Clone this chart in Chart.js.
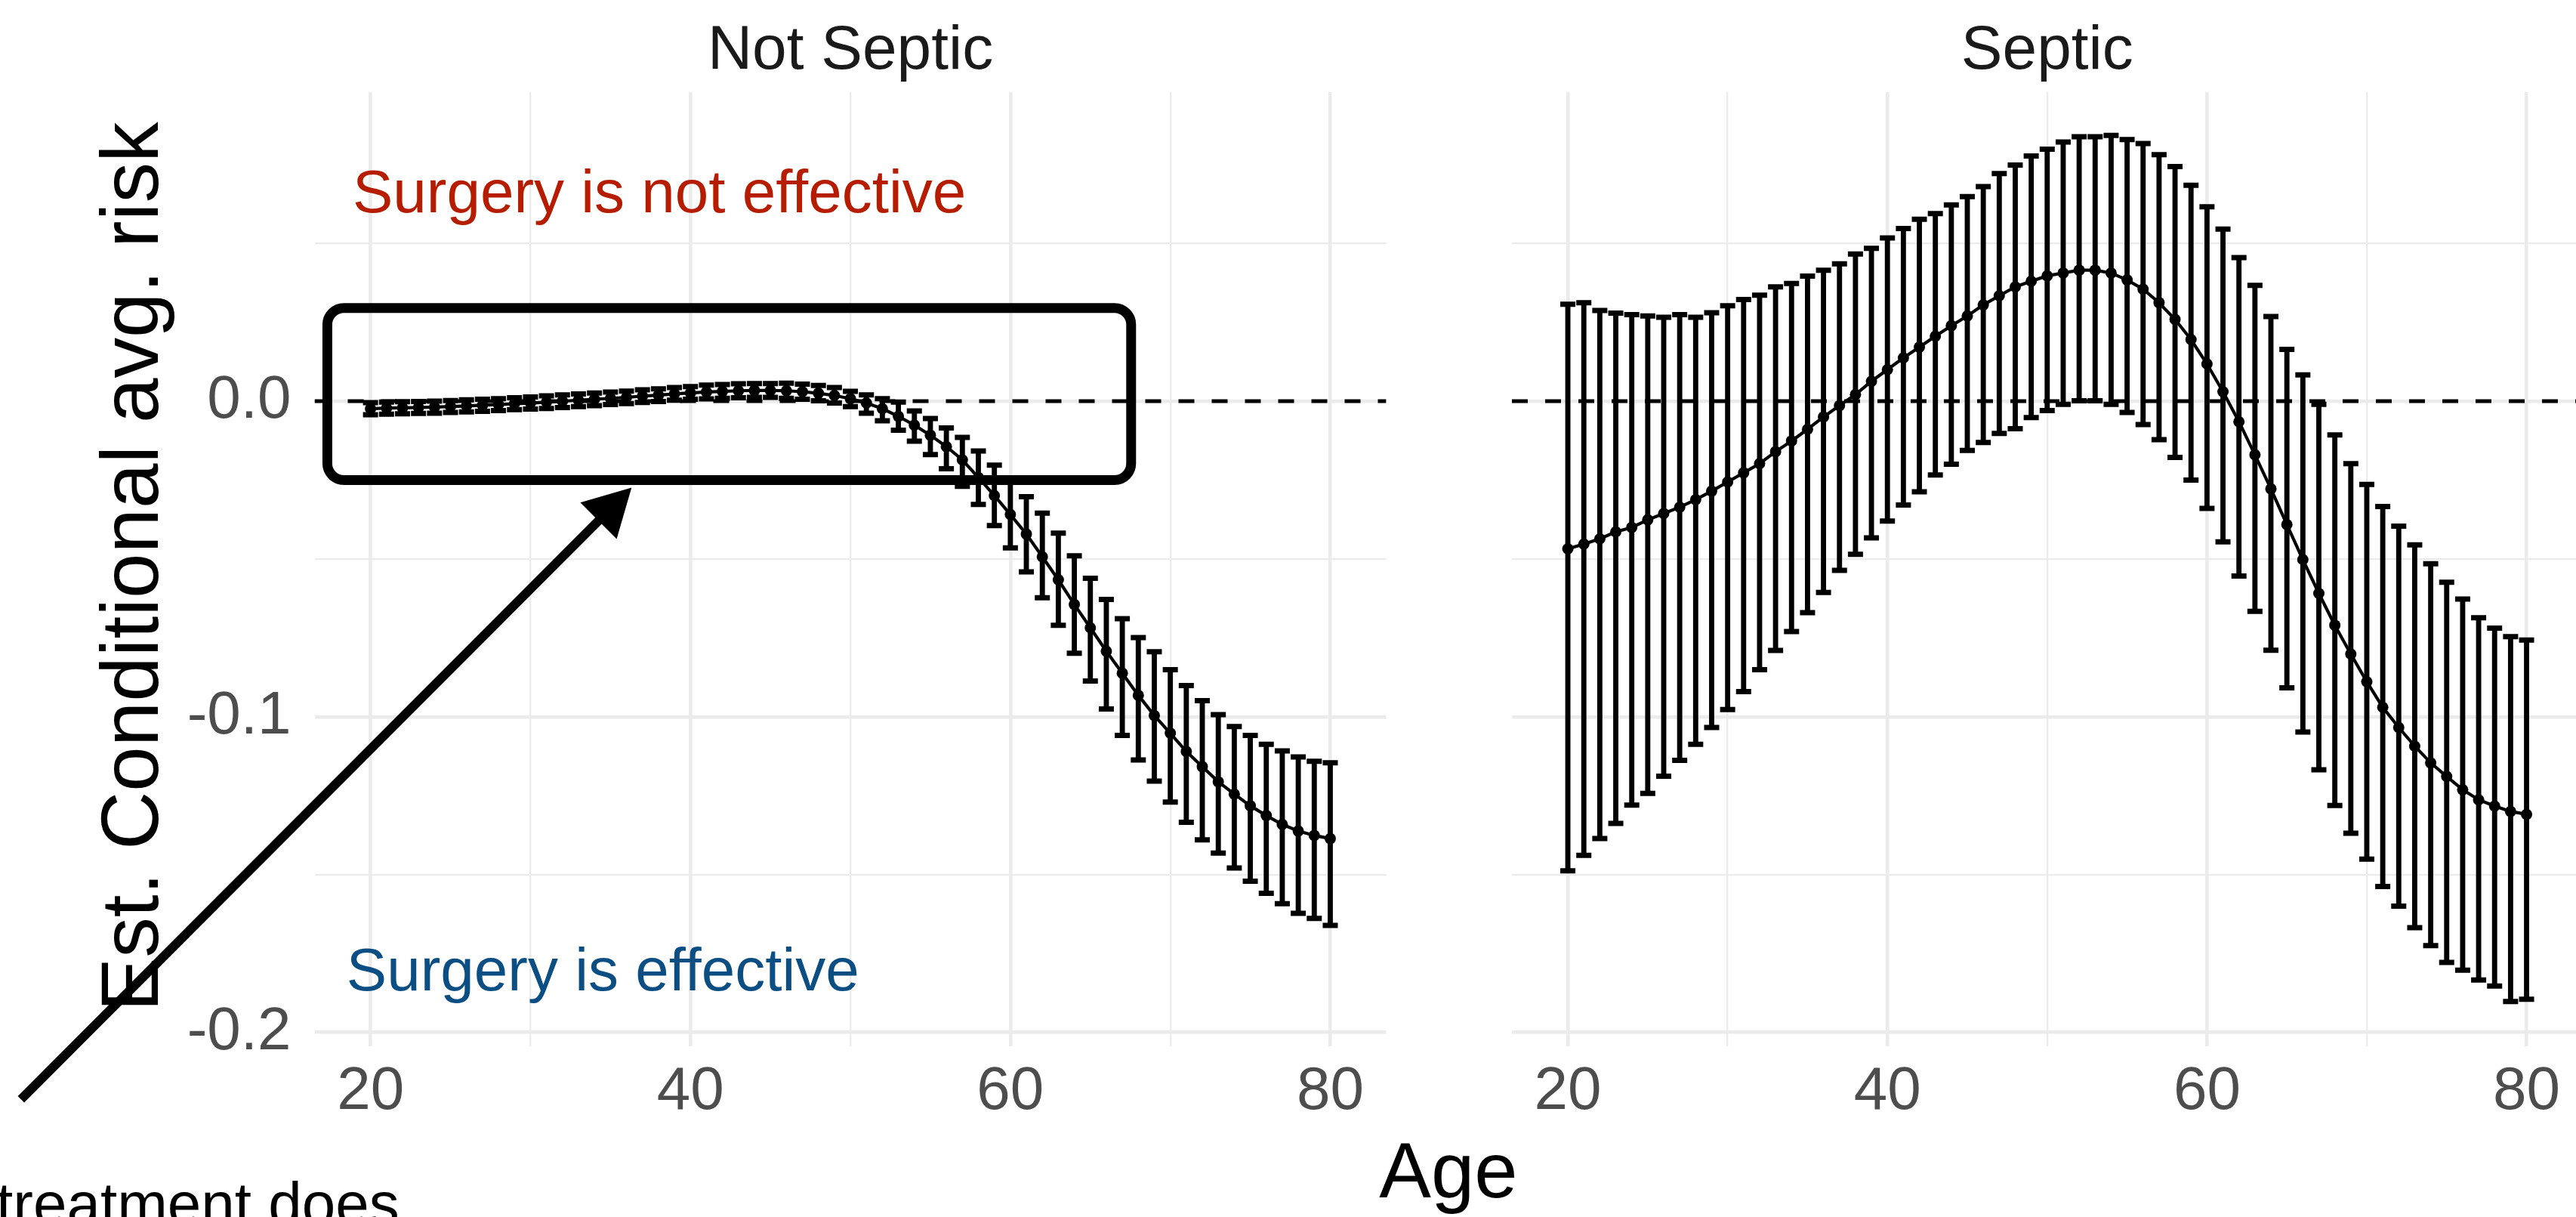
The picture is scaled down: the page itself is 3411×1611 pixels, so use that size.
<!DOCTYPE html>
<html>
<head>
<meta charset="utf-8">
<script src="https://cdn.jsdelivr.net/npm/chart.js@4/dist/chart.umd.min.js"></script>
<style>
  html, body { margin: 0; padding: 0; background: #ffffff; overflow: hidden; width: 3411px; height: 1611px; }
  canvas { position: absolute; left: 0; top: 0; }
</style>
</head>
<body>
<canvas id="septicChart" width="3500" height="1611"></canvas>
<canvas id="notSepticChart" width="3411" height="1611"></canvas>
<script>
// ---------------- data ----------------
const ages = [20, 21, 22, 23, 24, 25, 26, 27, 28, 29,
              30, 31, 32, 33, 34, 35, 36, 37, 38, 39,
              40, 41, 42, 43, 44, 45, 46, 47, 48, 49,
              50, 51, 52, 53, 54, 55, 56, 57, 58, 59,
              60, 61, 62, 63, 64, 65, 66, 67, 68, 69,
              70, 71, 72, 73, 74, 75, 76, 77, 78, 79, 80];

const panelTitles = ['Not Septic', 'Septic'];

// Not septic: estimated conditional average risk difference and interval bounds
const notSepticMean = [
  -0.0024, -0.0022, -0.0021, -0.0020, -0.0019, -0.0017, -0.0015, -0.0013, -0.0011, -0.0008,
  -0.0006, -0.0003,  0.0000,  0.0003,  0.0006,  0.0009,  0.0012,  0.0016,  0.0019,  0.0023,
   0.0026,  0.0029,  0.0031,  0.0033,  0.0034,  0.0034,  0.0033,  0.0030,  0.0025,  0.0018,
   0.0008, -0.0006, -0.0024, -0.0048, -0.0076, -0.0108, -0.0144, -0.0186, -0.0242, -0.0299,
  -0.0359, -0.0421, -0.0493, -0.0566, -0.0644, -0.0718, -0.0792, -0.0862, -0.0932, -0.0996,
  -0.1052, -0.1110, -0.1158, -0.1206, -0.1245, -0.1282, -0.1313, -0.1341, -0.1362, -0.1376, -0.1386];
const notSepticUpper = [
  -0.0005, -0.0003, -0.0002, -0.0001,  0.0000,  0.0002,  0.0004,  0.0006,  0.0008,  0.0011,
   0.0013,  0.0017,  0.0020,  0.0023,  0.0026,  0.0029,  0.0032,  0.0036,  0.0039,  0.0043,
   0.0046,  0.0051,  0.0053,  0.0055,  0.0056,  0.0056,  0.0057,  0.0054,  0.0050,  0.0043,
   0.0031,  0.0020,  0.0008, -0.0003, -0.0031, -0.0055, -0.0085, -0.0115, -0.0158, -0.0203,
  -0.0254, -0.0303, -0.0355, -0.0418, -0.0490, -0.0561, -0.0628, -0.0689, -0.0749, -0.0794,
  -0.0851, -0.0901, -0.0949, -0.0993, -0.1031, -0.1059, -0.1087, -0.1108, -0.1127, -0.1141, -0.1146];
const notSepticLower = [
  -0.0043, -0.0041, -0.0040, -0.0039, -0.0038, -0.0036, -0.0034, -0.0032, -0.0030, -0.0027,
  -0.0025, -0.0023, -0.0020, -0.0017, -0.0014, -0.0011, -0.0008, -0.0004, -0.0001,  0.0003,
   0.0006,  0.0007,  0.0009,  0.0011,  0.0012,  0.0012,  0.0009,  0.0006,  0.0001, -0.0006,
  -0.0017, -0.0038, -0.0062, -0.0092, -0.0127, -0.0169, -0.0214, -0.0270, -0.0327, -0.0394,
  -0.0465, -0.0541, -0.0623, -0.0710, -0.0799, -0.0887, -0.0975, -0.1059, -0.1137, -0.1204,
  -0.1270, -0.1334, -0.1390, -0.1432, -0.1479, -0.1521, -0.1559, -0.1592, -0.1623, -0.1639, -0.1661];

// Septic
const septicMean = [
  -0.0468, -0.0453, -0.0436, -0.0414, -0.0400, -0.0376, -0.0356, -0.0336, -0.0312, -0.0285,
  -0.0256, -0.0227, -0.0198, -0.0160, -0.0126, -0.0089, -0.0050, -0.0014,  0.0021,  0.0063,
   0.0100,  0.0137,  0.0171,  0.0206,  0.0239,  0.0270,  0.0305,  0.0334,  0.0362,  0.0380,
   0.0397,  0.0406,  0.0415,  0.0415,  0.0406,  0.0384,  0.0355,  0.0312,  0.0259,  0.0195,
   0.0118,  0.0030, -0.0065, -0.0170, -0.0278, -0.0391, -0.0502, -0.0609, -0.0710, -0.0801,
  -0.0889, -0.0970, -0.1034, -0.1093, -0.1146, -0.1189, -0.1231, -0.1263, -0.1283, -0.1300, -0.1309];
const septicUpper = [
   0.0307,  0.0312,  0.0287,  0.0279,  0.0274,  0.0270,  0.0266,  0.0274,  0.0266,  0.0280,
   0.0302,  0.0322,  0.0336,  0.0362,  0.0373,  0.0396,  0.0415,  0.0435,  0.0466,  0.0484,
   0.0517,  0.0547,  0.0576,  0.0594,  0.0622,  0.0648,  0.0680,  0.0721,  0.0748,  0.0777,
   0.0798,  0.0821,  0.0838,  0.0838,  0.0842,  0.0829,  0.0816,  0.0781,  0.0743,  0.0684,
   0.0616,  0.0545,  0.0455,  0.0367,  0.0268,  0.0164,  0.0083, -0.0010, -0.0107, -0.0198,
  -0.0264, -0.0334, -0.0396, -0.0455, -0.0515, -0.0574, -0.0627, -0.0686, -0.0719, -0.0746, -0.0757];
const septicLower = [
  -0.1488, -0.1439, -0.1386, -0.1338, -0.1280, -0.1243, -0.1188, -0.1138, -0.1087, -0.1034,
  -0.0977, -0.0920, -0.0851, -0.0790, -0.0730, -0.0670, -0.0606, -0.0536, -0.0485, -0.0433,
  -0.0380, -0.0329, -0.0287, -0.0234, -0.0200, -0.0156, -0.0131, -0.0102, -0.0087, -0.0052,
  -0.0030, -0.0010,  0.0001,  0.0001, -0.0010, -0.0036, -0.0074, -0.0122, -0.0178, -0.0250,
  -0.0340, -0.0446, -0.0554, -0.0666, -0.0789, -0.0908, -0.1048, -0.1168, -0.1281, -0.1369,
  -0.1451, -0.1538, -0.1600, -0.1668, -0.1725, -0.1778, -0.1803, -0.1834, -0.1853, -0.1902, -0.1895];

// Annotation text
const labelNotEffective = 'Surgery is not effective';
const labelEffective = 'Surgery is effective';
const labelFooter = 'treatment does';
const xTitle = 'Age';
const yTitle = 'Est. Conditional avg. risk';

// ---------------- layout & style ----------------
const FONT = '"Liberation Sans", Arial, Helvetica, sans-serif';
Chart.defaults.font.family = FONT;

const X_MIN = 16.5, X_MAX = 83.5;
const Y_MIN = -0.2043, Y_MAX = 0.0979;
const AREA_TOP = 122, AREA_BOTTOM = 1384.6;
const GRID = '#EBEBEB';

// annotation placement in data units (Not Septic panel)
const NOTE = {
  box: { x0: 17.3, x1: 67.55, y0: -0.025, y1: 0.0295 },
  arrowFrom: { x: -1.85, y: -0.2212 },
  arrowTo: { x: 36.32, y: -0.0274 },
  redText: { x: 18.88, y: 0.0598 },
  blueText: { x: 18.5, y: -0.1868 },
  footer: { x: 21.8, y: -0.261 }
};

function isMultiple(v, step) {
  const q = v / step;
  return Math.abs(q - Math.round(q)) < 1e-6;
}

function makeScales(showYLabels, yAxisWidth) {
  return {
    x: {
      type: 'linear', min: X_MIN, max: X_MAX, offset: false,
      border: { display: false },
      grid: {
        offset: false, drawTicks: false, color: GRID,
        lineWidth: (c) => (c.tick && isMultiple(c.tick.value, 20)) ? 4.6 : 2.3
      },
      ticks: {
        stepSize: 10, includeBounds: false, autoSkip: false, maxRotation: 0, minRotation: 0,
        padding: 13, color: '#4D4D4D', font: { size: 80 },
        callback: (v) => isMultiple(v, 20) ? String(v) : ''
      },
      afterFit: (s) => { s.height = 1611 - AREA_BOTTOM; }
    },
    y: {
      type: 'linear', min: Y_MIN, max: Y_MAX,
      border: { display: false },
      grid: {
        drawTicks: false, color: GRID,
        lineWidth: (c) => (c.tick && isMultiple(c.tick.value, 0.1)) ? 4.6 : 2.3
      },
      ticks: {
        display: showYLabels, stepSize: 0.05, includeBounds: false, autoSkip: false,
        padding: 31, color: '#4D4D4D', font: { size: 80 },
        callback: (v) => isMultiple(v, 0.1) ? (Math.abs(v) < 1e-9 ? '0.0' : v.toFixed(1)) : ''
      },
      afterFit: (s) => { s.width = yAxisWidth; }
    }
  };
}

function makeDatasets(mean, lower, upper) {
  return [
    { // point estimates joined by a line
      type: 'line', label: 'estimate', order: 0,
      data: ages.map((a, i) => ({ x: a, y: mean[i] })),
      borderColor: '#000', borderWidth: 4.2, tension: 0,
      pointStyle: 'circle', pointRadius: 7.5, pointBackgroundColor: '#000',
      pointBorderColor: '#000', pointBorderWidth: 0
    },
    { // upper whisker caps
      type: 'line', label: 'upper', order: 1, showLine: false,
      data: ages.map((a, i) => ({ x: a, y: upper[i] })),
      pointStyle: 'line', pointRadius: 10, pointBorderWidth: 7, pointBorderColor: '#000'
    },
    { // lower whisker caps
      type: 'line', label: 'lower', order: 1, showLine: false,
      data: ages.map((a, i) => ({ x: a, y: lower[i] })),
      pointStyle: 'line', pointRadius: 10, pointBorderWidth: 7, pointBorderColor: '#000'
    },
    { // interval stems
      type: 'bar', label: 'interval', order: 2,
      data: ages.map((a, i) => ({ x: a, y: [lower[i], upper[i]] })),
      backgroundColor: '#000', borderWidth: 0, borderSkipped: false, barThickness: 6.2
    },
    { // reference line at zero
      type: 'line', label: 'zero', order: 3,
      data: [{ x: X_MIN, y: 0 }, { x: X_MAX, y: 0 }],
      borderColor: '#000', borderWidth: 5, borderDash: [21, 23], pointRadius: 0, tension: 0
    }
  ];
}

// strip title above each panel
const panelTitlePlugin = {
  id: 'panelTitle',
  afterDraw(chart, args, opts) {
    const { ctx, chartArea } = chart;
    ctx.save();
    ctx.fillStyle = '#1A1A1A';
    ctx.font = '82px ' + FONT;
    ctx.textAlign = 'center';
    ctx.textBaseline = 'alphabetic';
    ctx.fillText(opts.text, (chartArea.left + chartArea.right) / 2, 91);
    ctx.restore();
  }
};

function roundedBox(ctx, l, t, r, b, rad) {
  ctx.beginPath();
  ctx.moveTo(l + rad, t);
  ctx.arcTo(r, t, r, b, rad);
  ctx.arcTo(r, b, l, b, rad);
  ctx.arcTo(l, b, l, t, rad);
  ctx.arcTo(l, t, r, t, rad);
  ctx.closePath();
}

// highlight box, arrow, region labels and shared axis titles
const notesPlugin = {
  id: 'notes',
  afterDatasetsDraw(chart) {
    const { ctx, scales: { x, y } } = chart;
    ctx.save();
    // box around the near-zero region
    ctx.strokeStyle = '#000';
    ctx.lineWidth = 13;
    roundedBox(ctx,
      x.getPixelForValue(NOTE.box.x0), y.getPixelForValue(NOTE.box.y1),
      x.getPixelForValue(NOTE.box.x1), y.getPixelForValue(NOTE.box.y0), 22);
    ctx.stroke();

    // arrow pointing at the box
    const p0 = { x: x.getPixelForValue(NOTE.arrowFrom.x), y: y.getPixelForValue(NOTE.arrowFrom.y) };
    const p1 = { x: x.getPixelForValue(NOTE.arrowTo.x), y: y.getPixelForValue(NOTE.arrowTo.y) };
    const ang = Math.atan2(p1.y - p0.y, p1.x - p0.x);
    const headLen = 62, headHalf = 34;
    const bx = p1.x - headLen * Math.cos(ang), by = p1.y - headLen * Math.sin(ang);
    ctx.lineWidth = 12;
    ctx.lineCap = 'butt';
    ctx.beginPath();
    ctx.moveTo(p0.x, p0.y);
    ctx.lineTo(bx + 4 * Math.cos(ang), by + 4 * Math.sin(ang));
    ctx.stroke();
    ctx.fillStyle = '#000';
    ctx.beginPath();
    ctx.moveTo(p1.x, p1.y);
    ctx.lineTo(bx + headHalf * Math.sin(ang), by - headHalf * Math.cos(ang));
    ctx.lineTo(bx - headHalf * Math.sin(ang), by + headHalf * Math.cos(ang));
    ctx.closePath();
    ctx.fill();

    // region labels
    ctx.font = '80px ' + FONT;
    ctx.textBaseline = 'alphabetic';
    ctx.textAlign = 'left';
    ctx.fillStyle = '#B51C00';
    ctx.fillText(labelNotEffective, x.getPixelForValue(NOTE.redText.x), y.getPixelForValue(NOTE.redText.y));
    ctx.fillStyle = '#0A4E84';
    ctx.fillText(labelEffective, x.getPixelForValue(NOTE.blueText.x), y.getPixelForValue(NOTE.blueText.y));
    ctx.fillStyle = '#000';
    ctx.textAlign = 'right';
    ctx.fillText(labelFooter, x.getPixelForValue(NOTE.footer.x), y.getPixelForValue(NOTE.footer.y));
    ctx.restore();
  },
  afterDraw(chart) {
    const { ctx, chartArea } = chart;
    ctx.save();
    ctx.fillStyle = '#000';
    // y axis title
    ctx.font = '107px ' + FONT;
    ctx.textAlign = 'center';
    ctx.textBaseline = 'alphabetic';
    ctx.translate(209, (chartArea.top + chartArea.bottom) / 2 - 3);
    ctx.rotate(-Math.PI / 2);
    ctx.fillText(yTitle, 0, 0);
    ctx.restore();
    // x axis title, centred under both panels
    ctx.save();
    ctx.fillStyle = '#000';
    ctx.font = '103px ' + FONT;
    ctx.textAlign = 'center';
    ctx.textBaseline = 'alphabetic';
    ctx.fillText(xTitle, 1918, 1585);
    ctx.restore();
  }
};

function baseOptions(title, padRight, showYLabels, yAxisWidth) {
  return {
    responsive: false,
    animation: false,
    devicePixelRatio: 1,
    events: [],
    layout: { padding: { left: 0, top: AREA_TOP, right: padRight, bottom: 0 } },
    plugins: { legend: { display: false }, tooltip: { enabled: false }, panelTitle: { text: title } },
    scales: makeScales(showYLabels, yAxisWidth)
  };
}

// Septic panel (drawn underneath; its canvas runs past the right edge)
new Chart(document.getElementById('septicChart'), {
  type: 'bar',
  data: { datasets: makeDatasets(septicMean, septicLower, septicUpper) },
  options: baseOptions(panelTitles[1], 3500 - 3419.6, false, 2002),
  plugins: [panelTitlePlugin]
});

// Not Septic panel with annotations and axis titles
new Chart(document.getElementById('notSepticChart'), {
  type: 'bar',
  data: { datasets: makeDatasets(notSepticMean, notSepticLower, notSepticUpper) },
  options: baseOptions(panelTitles[0], 3411 - 1835.6, true, 416.5),
  plugins: [panelTitlePlugin, notesPlugin]
});
</script>
</body>
</html>
